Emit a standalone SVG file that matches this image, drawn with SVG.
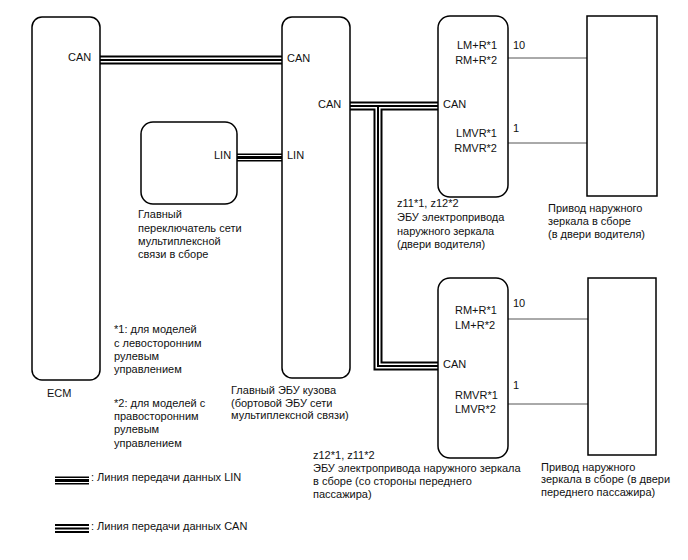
<svg xmlns="http://www.w3.org/2000/svg" width="688" height="560" viewBox="0 0 688 560">
<style>
text{font-family:"Liberation Sans",Arial,sans-serif;font-size:11px;fill:#111}
.box{fill:#fff;stroke:#000;stroke-width:1.5}
.wire{fill:none;stroke:#555;stroke-width:1}
.c1{fill:none;stroke:#000;stroke-width:9;stroke-linejoin:miter}
.c2{fill:none;stroke:#fff;stroke-width:5;stroke-linejoin:miter}
.c3{fill:none;stroke:#000;stroke-width:2;stroke-linejoin:miter}
.l1{fill:none;stroke:#000;stroke-width:8}
.l2{fill:none;stroke:#fff;stroke-width:5}
.l3{fill:none;stroke:#000;stroke-width:3}
.e{text-anchor:end}
</style>
<rect width="688" height="560" fill="#fff"/>
<g id="connectors">
  <path class="c1" d="M100,60H282 M350,106H438 M378,106V366H438"/>
  <path class="c2" d="M100,60H282 M350,106H438 M378,106V366H438"/>
  <path class="c3" d="M100,60H282 M350,106H438 M378,106V366H438"/>
  <path class="l1" d="M237,157.5H282"/>
  <path class="l2" d="M237,157.5H282"/>
  <path class="l3" d="M237,157.5H282"/>
  <path class="wire" d="M508,58H587 M508,143H587 M508,319H588 M508,404H588"/>
  <text x="513" y="49">10</text>
  <text x="513" y="132">1</text>
  <text x="513" y="307">10</text>
  <text x="513" y="389">1</text>
</g>
<g id="ecm">
  <rect class="box" x="32" y="17" width="68" height="363" rx="10"/>
  <text x="68" y="61">CAN</text>
  <text x="47" y="397">ECM</text>
</g>
<g id="body-ecu">
  <rect class="box" x="282" y="17" width="68" height="361" rx="10"/>
  <text x="287" y="62">CAN</text>
  <text x="318" y="108">CAN</text>
  <text x="287" y="159">LIN</text>
  <text x="231" y="394">Главный ЭБУ кузова</text>
  <text x="231" y="407">(бортовой ЭБУ сети</text>
  <text x="231" y="419">мультиплексной связи)</text>
</g>
<g id="master-switch">
  <rect class="box" x="141" y="122" width="96" height="82" rx="12"/>
  <text x="214" y="159">LIN</text>
  <text x="138" y="218">Главный</text>
  <text x="138" y="232">переключатель сети</text>
  <text x="138" y="245">мультиплексной</text>
  <text x="138" y="258">связи в сборе</text>
</g>
<g id="driver-ecu">
  <rect class="box" x="438" y="16" width="70" height="181" rx="12"/>
  <text class="e" x="497" y="49">LM+R*1</text>
  <text class="e" x="497" y="64">RM+R*2</text>
  <text x="443" y="108">CAN</text>
  <text class="e" x="497" y="137">LMVR*1</text>
  <text class="e" x="497" y="152">RMVR*2</text>
  <text x="397" y="207">z11*1, z12*2</text>
  <text x="397" y="221">ЭБУ электропривода</text>
  <text x="397" y="235">наружного зеркала</text>
  <text x="397" y="248">(двери водителя)</text>
</g>
<g id="driver-mirror">
  <rect class="box" x="587" y="16" width="70" height="180"/>
  <text x="548" y="212">Привод наружного</text>
  <text x="548" y="225">зеркала в сборе</text>
  <text x="548" y="238">(в двери водителя)</text>
</g>
<g id="passenger-ecu">
  <rect class="box" x="438" y="278" width="70" height="180" rx="12"/>
  <text x="455" y="314">RM+R*1</text>
  <text x="455" y="329">LM+R*2</text>
  <text x="443" y="368">CAN</text>
  <text x="455" y="399">RMVR*1</text>
  <text x="455" y="413">LMVR*2</text>
  <text x="313" y="459">z12*1, z11*2</text>
  <text x="313" y="472">ЭБУ электропривода наружного зеркала</text>
  <text x="313" y="485">в сборе (со стороны переднего</text>
  <text x="313" y="498">пассажира)</text>
</g>
<g id="passenger-mirror">
  <rect class="box" x="588" y="278" width="68" height="177"/>
  <text x="541" y="471">Привод наружного</text>
  <text x="541" y="483">зеркала в сборе (в двери</text>
  <text x="541" y="496">переднего пассажира)</text>
</g>
<g id="notes">
  <text x="114" y="333">*1: для моделей</text>
  <text x="114" y="347">с левосторонним</text>
  <text x="114" y="360">рулевым</text>
  <text x="114" y="373">управлением</text>
  <text x="114" y="407">*2: для моделей с</text>
  <text x="114" y="420">правосторонним</text>
  <text x="114" y="433">рулевым</text>
  <text x="114" y="447">управлением</text>
</g>
<g id="legend">
  <path class="l1" d="M55,480.5H89"/>
  <path class="l2" d="M55,480.5H89"/>
  <path class="l3" d="M55,480.5H89"/>
  <text x="91" y="481">: Линия передачи данных LIN</text>
  <path class="c1" d="M55,528.5H89"/>
  <path class="c2" d="M55,528.5H89"/>
  <path class="c3" d="M55,528.5H89"/>
  <text x="91" y="530">: Линия передачи данных CAN</text>
</g>
</svg>
